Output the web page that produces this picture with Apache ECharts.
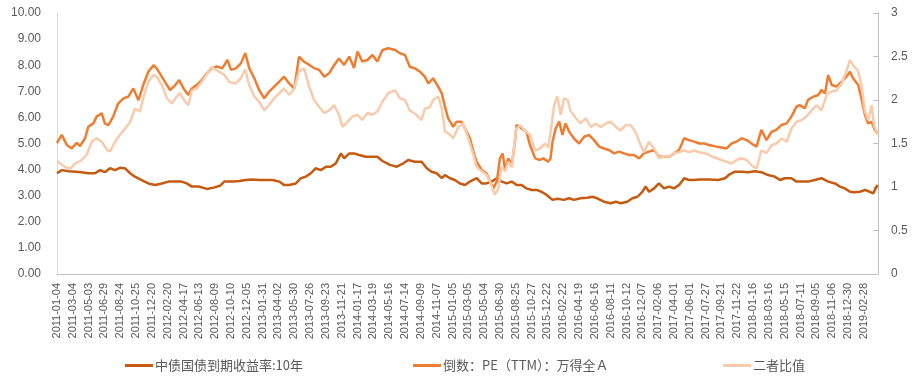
<!DOCTYPE html>
<html>
<head>
<meta charset="utf-8">
<script src="https://cdn.jsdelivr.net/npm/echarts@6/dist/echarts.min.js"></script>
<style>
html,body{margin:0;padding:0;background:#fff;}
#c{width:914px;height:389px;}
</style>
</head>
<body>
<div id="c"></div>
<script>
// x tick labels (one every 40 trading days)
const tickLabels = ["2011-01-04","2011-03-04","2011-05-03","2011-06-29","2011-08-24","2011-10-25","2011-12-20","2012-02-20","2012-04-17","2012-06-13","2012-08-09","2012-10-10","2012-12-05","2013-01-31","2013-04-02","2013-05-30","2013-07-26","2013-09-23","2013-11-21","2014-01-17","2014-03-19","2014-05-16","2014-07-14","2014-09-09","2014-11-07","2015-01-05","2015-03-05","2015-05-04","2015-06-30","2015-08-25","2015-10-27","2015-12-22","2016-02-22","2016-04-19","2016-06-16","2016-08-11","2016-10-12","2016-12-07","2017-02-06","2017-04-01","2017-06-01","2017-07-27","2017-09-21","2017-11-22","2018-01-16","2018-03-16","2018-05-15","2018-07-11","2018-09-05","2018-11-06","2018-12-30","2019-02-28"];
const tickStep = 40;
const lastDay = 2076;

const seriesNames = ["中债国债到期收益率:10年", "倒数：PE（TTM）：万得全Ａ", "二者比值"];

// [trading-day index, value]
const bondYield10Y = [[0,3.86],[12,3.98],[29,3.94],[46,3.92],[62,3.90],[79,3.86],[96,3.86],[109,3.98],[121,3.90],[134,4.05],[147,3.98],[159,4.07],[172,4.05],[185,3.86],[197,3.73],[214,3.60],[231,3.47],[248,3.41],[265,3.47],[282,3.54],[299,3.54],[315,3.54],[328,3.47],[341,3.35],[358,3.35],[379,3.26],[396,3.31],[412,3.38],[423,3.54],[444,3.54],[461,3.56],[477,3.60],[494,3.62],[511,3.60],[528,3.60],[545,3.60],[562,3.54],[574,3.41],[587,3.41],[604,3.47],[617,3.67],[629,3.73],[642,3.86],[654,4.05],[667,3.98],[680,4.11],[692,4.11],[705,4.24],[718,4.62],[726,4.43],[739,4.62],[751,4.62],[764,4.56],[781,4.49],[798,4.49],[810,4.49],[823,4.33],[842,4.18],[859,4.11],[876,4.24],[888,4.37],[905,4.30],[922,4.30],[935,4.05],[947,3.92],[960,3.86],[973,3.67],[981,3.79],[994,3.67],[1006,3.60],[1019,3.47],[1032,3.41],[1044,3.54],[1061,3.67],[1074,3.47],[1086,3.47],[1099,3.54],[1112,3.67],[1124,3.54],[1137,3.47],[1150,3.54],[1162,3.41],[1175,3.41],[1187,3.28],[1200,3.22],[1213,3.22],[1225,3.15],[1238,3.03],[1253,2.84],[1265,2.88],[1282,2.84],[1295,2.90],[1307,2.84],[1324,2.90],[1341,2.92],[1354,2.96],[1366,2.90],[1383,2.77],[1400,2.71],[1413,2.77],[1425,2.71],[1442,2.77],[1455,2.90],[1468,2.96],[1480,3.15],[1489,3.35],[1497,3.15],[1510,3.28],[1522,3.47],[1535,3.28],[1548,3.35],[1560,3.28],[1573,3.41],[1586,3.67],[1598,3.60],[1611,3.60],[1624,3.62],[1636,3.62],[1649,3.62],[1672,3.60],[1689,3.67],[1701,3.82],[1714,3.92],[1731,3.92],[1748,3.90],[1765,3.94],[1781,3.90],[1798,3.79],[1815,3.73],[1828,3.60],[1840,3.67],[1857,3.67],[1870,3.54],[1883,3.54],[1899,3.54],[1916,3.60],[1933,3.67],[1950,3.54],[1967,3.47],[1980,3.35],[1992,3.28],[2005,3.15],[2017,3.13],[2030,3.15],[2043,3.22],[2055,3.15],[2064,3.09],[2070,3.28],[2075,3.41]];

const peInverse = [[0,5.02],[12,5.33],[25,4.94],[37,4.81],[50,5.02],[58,4.90],[71,5.20],[79,5.64],[92,5.77],[100,6.03],[113,6.16],[121,5.77],[130,5.70],[142,6.03],[155,6.54],[168,6.73],[180,6.79],[193,7.11],[206,6.66],[218,7.24],[231,7.75],[244,8.00],[252,7.88],[265,7.56],[278,7.24],[286,7.05],[299,7.24],[309,7.43],[320,7.11],[332,6.86],[341,7.11],[353,7.24],[366,7.43],[379,7.69],[391,7.88],[404,7.95],[418,7.88],[431,8.20],[440,7.82],[452,7.88],[465,8.07],[476,8.46],[486,7.89],[499,7.50],[511,7.05],[524,6.73],[536,6.98],[549,7.18],[562,7.37],[574,7.56],[587,7.30],[600,7.10],[612,8.33],[625,8.13],[638,8.01],[650,7.89],[663,7.82],[676,7.56],[688,7.69],[701,8.01],[713,8.26],[726,8.01],[739,8.33],[751,7.89],[760,8.52],[772,8.14],[785,8.20],[798,8.39],[810,8.14],[823,8.58],[838,8.65],[855,8.58],[867,8.46],[880,8.39],[892,7.94],[905,7.88],[918,7.75],[930,7.56],[939,7.30],[951,7.50],[964,7.18],[973,6.92],[981,6.41],[989,5.96],[1002,5.64],[1010,5.83],[1023,5.83],[1036,5.45],[1044,5.20],[1053,4.69],[1061,4.30],[1074,3.98],[1086,3.86],[1095,3.54],[1103,3.28],[1112,3.54],[1120,4.43],[1127,4.62],[1133,3.98],[1141,4.43],[1150,4.18],[1158,5.07],[1162,5.71],[1175,5.58],[1187,5.45],[1196,4.94],[1209,4.43],[1221,4.37],[1230,4.43],[1242,4.30],[1248,4.43],[1253,5.07],[1261,5.58],[1270,5.84],[1278,5.33],[1286,5.77],[1295,5.45],[1307,5.20],[1320,5.00],[1333,5.26],[1345,5.33],[1358,5.13],[1371,4.88],[1383,4.81],[1396,4.75],[1409,4.62],[1421,4.69],[1434,4.62],[1447,4.56],[1459,4.56],[1472,4.43],[1484,4.62],[1497,4.69],[1510,4.75],[1522,4.49],[1535,4.49],[1548,4.49],[1560,4.62],[1573,4.75],[1586,5.20],[1598,5.13],[1611,5.07],[1624,5.00],[1636,5.00],[1649,4.94],[1668,4.88],[1680,4.85],[1693,4.81],[1706,5.00],[1718,5.07],[1731,5.20],[1744,5.13],[1756,5.00],[1769,4.88],[1781,5.52],[1794,5.13],[1807,5.45],[1819,5.52],[1832,5.71],[1845,5.77],[1857,6.03],[1870,6.41],[1878,6.47],[1891,6.35],[1899,6.67],[1912,6.79],[1925,6.86],[1933,7.05],[1942,6.92],[1950,7.62],[1959,7.24],[1971,7.18],[1984,7.37],[1996,7.56],[2005,7.75],[2013,7.50],[2026,7.24],[2034,6.73],[2043,6.09],[2051,5.77],[2060,5.83],[2068,5.52],[2075,5.39]];

const ratioValues = [[0,1.30],[20,1.23],[33,1.21],[46,1.27],[62,1.31],[75,1.37],[88,1.52],[100,1.56],[113,1.52],[126,1.43],[134,1.41],[147,1.52],[159,1.60],[172,1.67],[185,1.75],[197,1.90],[210,1.87],[218,2.02],[231,2.21],[244,2.29],[252,2.27],[265,2.17],[278,2.02],[290,1.96],[303,2.04],[311,2.08],[324,1.98],[332,1.94],[341,2.11],[353,2.13],[366,2.21],[379,2.30],[391,2.38],[404,2.34],[423,2.29],[435,2.21],[452,2.19],[465,2.25],[476,2.35],[486,2.17],[499,2.04],[511,1.98],[524,1.88],[536,1.94],[549,2.02],[562,2.08],[574,2.13],[587,2.06],[600,2.13],[612,2.33],[625,2.36],[638,2.15],[650,2.00],[663,1.92],[676,1.85],[688,1.88],[701,1.94],[713,1.83],[722,1.69],[735,1.75],[747,1.81],[760,1.83],[772,1.77],[785,1.85],[798,1.83],[810,1.87],[823,1.98],[838,2.08],[855,2.11],[867,2.02],[880,2.00],[892,1.88],[909,1.83],[922,1.77],[930,1.90],[943,1.92],[951,2.00],[964,2.04],[973,1.90],[981,1.64],[994,1.60],[1002,1.56],[1015,1.69],[1027,1.73],[1040,1.56],[1053,1.37],[1061,1.23],[1074,1.18],[1086,1.14],[1095,1.06],[1107,0.91],[1116,0.98],[1124,1.23],[1133,1.18],[1141,1.29],[1150,1.23],[1161,1.67],[1171,1.71],[1183,1.65],[1196,1.60],[1209,1.42],[1221,1.44],[1234,1.50],[1242,1.45],[1248,1.63],[1257,1.94],[1265,2.04],[1274,1.83],[1282,2.02],[1291,2.00],[1299,1.87],[1312,1.79],[1324,1.73],[1337,1.79],[1350,1.69],[1362,1.73],[1375,1.69],[1388,1.73],[1400,1.75],[1413,1.69],[1425,1.65],[1438,1.71],[1451,1.71],[1463,1.63],[1476,1.48],[1484,1.40],[1497,1.52],[1510,1.44],[1522,1.33],[1535,1.35],[1548,1.35],[1560,1.39],[1573,1.40],[1586,1.42],[1598,1.40],[1611,1.42],[1624,1.40],[1636,1.39],[1649,1.37],[1655,1.35],[1668,1.33],[1680,1.31],[1693,1.29],[1706,1.27],[1718,1.31],[1731,1.33],[1744,1.31],[1756,1.25],[1769,1.21],[1781,1.42],[1794,1.39],[1807,1.48],[1819,1.50],[1832,1.56],[1845,1.52],[1857,1.67],[1870,1.75],[1883,1.77],[1895,1.81],[1908,1.88],[1921,1.94],[1933,1.88],[1946,2.06],[1959,2.10],[1971,2.11],[1984,2.19],[1996,2.33],[2005,2.46],[2013,2.40],[2026,2.33],[2034,2.17],[2043,1.87],[2051,1.77],[2060,1.94],[2066,1.71],[2075,1.60]];

const colors = ["#C55A11", "#ED7D31", "#F8CBAD"];
const txt = "#595959";
const axisGray = "#BFBFBF";

const chart = echarts.init(document.getElementById('c'), null, {renderer: 'canvas'});
function legendFor(i, left) {
  return {
    data: [seriesNames[i]], left: left, top: 354,
    icon: 'rect', itemWidth: 28, itemHeight: 3, itemGap: 4,
    textStyle: {color: txt, fontSize: 13, fontFamily: '"Noto Sans CJK SC", sans-serif', padding: [0,0,0,-3]}
  };
}
chart.setOption({
  animation: false,
  backgroundColor: '#fff',
  grid: {left: 57, right: 36, top: 13, bottom: 115, containLabel: false},
  legend: [legendFor(0, 120), legendFor(1, 408), legendFor(2, 718)],
  xAxis: {
    type: 'value', min: 0, max: lastDay, interval: tickStep,
    axisLine: {show: true, lineStyle: {color: axisGray, width: 1}},
    axisTick: {show: false},
    splitLine: {show: false},
    axisLabel: {
      rotate: 90, margin: 9, fontSize: 11, color: txt,
      fontFamily: '"Liberation Sans", Arial, sans-serif',
      showMaxLabel: false,
      formatter: function (v) {
        const k = Math.round(v / tickStep);
        return (Math.abs(v - k * tickStep) < 1e-6 && tickLabels[k]) ? tickLabels[k] : '';
      }
    }
  },
  yAxis: [{
    type: 'value', min: 0, max: 10, interval: 1, position: 'left',
    axisLine: {show: true, lineStyle: {color: '#D9D9D9'}},
    axisTick: {show: false},
    splitLine: {show: false},
    axisLabel: {margin: 16, fontSize: 12, color: txt, fontFamily: '"Liberation Sans", Arial, sans-serif',
      formatter: v => v.toFixed(2)}
  }, {
    type: 'value', min: 0, max: 3, interval: 0.5, position: 'right',
    axisLine: {show: true, lineStyle: {color: axisGray}},
    axisTick: {show: true, inside: true, length: 5, lineStyle: {color: axisGray}},
    splitLine: {show: false},
    axisLabel: {margin: 13, fontSize: 12, color: txt, fontFamily: '"Liberation Sans", Arial, sans-serif'}
  }],
  series: [
    {name: seriesNames[0], type: 'line', yAxisIndex: 0, data: bondYield10Y, showSymbol: false, color: colors[0], lineStyle: {width: 2.5, color: colors[0]}},
    {name: seriesNames[1], type: 'line', yAxisIndex: 0, data: peInverse, showSymbol: false, color: colors[1], lineStyle: {width: 2.5, color: colors[1]}},
    {name: seriesNames[2], type: 'line', yAxisIndex: 1, data: ratioValues, showSymbol: false, color: colors[2], lineStyle: {width: 2.5, color: colors[2]}}
  ]
});
</script>
</body>
</html>
